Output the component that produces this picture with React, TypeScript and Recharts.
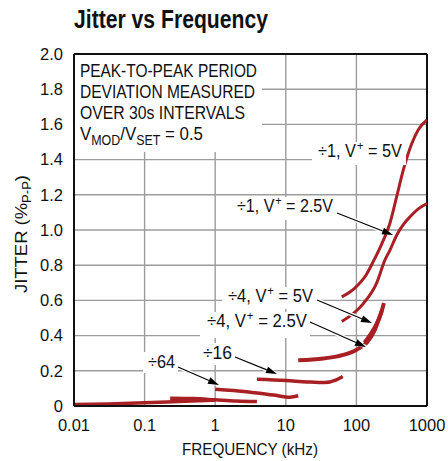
import React from "react";
import {
  LineChart,
  Line,
  XAxis,
  YAxis,
  CartesianGrid,
  ReferenceLine,
} from "recharts";

// axis ticks
const X_TICKS = [0.01, 0.1, 1, 10, 100, 1000];
const Y_TICKS = [0, 0.2, 0.4, 0.6, 0.8, 1.0, 1.2, 1.4, 1.6, 1.8, 2.0];

// frequency (kHz) / jitter (%P-P)
const F_DIV1_5V = [62, 95, 140, 173, 228, 299, 372, 461, 607, 753, 1000];
const J_DIV1_5V = [0.62, 0.67, 0.75, 0.82, 0.92, 1.04, 1.19, 1.34, 1.49, 1.57, 1.625];

const F_DIV1_25V = [62, 126, 194, 254, 299, 372, 461, 575, 753, 1000];
const J_DIV1_25V = [0.48, 0.583, 0.7, 0.83, 0.886, 0.97, 1.03, 1.075, 1.12, 1.15];

const F_DIV4_5V = [130, 160, 195, 225, 245];
const J_DIV4_5V = [0.36, 0.41, 0.47, 0.53, 0.585];

const F_DIV4_25V = [15, 34, 65, 101, 140, 181, 228];
const J_DIV4_25V = [0.26, 0.27, 0.29, 0.32, 0.36, 0.43, 0.54];

const F_DIV16 = [3.9, 10, 20, 35, 52, 64];
const J_DIV16 = [0.152, 0.145, 0.137, 0.133, 0.148, 0.167];

const F_DIV64 = [1, 2.8, 6.7, 11.5, 15];
const J_DIV64 = [0.095, 0.081, 0.062, 0.05, 0.058];

const F_DIV256 = [0.23, 0.5, 1, 2, 3.9];
const J_DIV256 = [0.044, 0.042, 0.035, 0.028, 0.025];

const F_DIV1024 = [0.01, 0.03, 0.1, 0.3, 1];
const J_DIV1024 = [0.008, 0.012, 0.018, 0.025, 0.033];

const zip = (f: number[], j: number[]) => f.map((x, i) => ({ f: x, j: j[i] }));

const SERIES = [
  { key: "div1_5v", data: zip(F_DIV1_5V, J_DIV1_5V), w: 3 },
  { key: "div1_25v", data: zip(F_DIV1_25V, J_DIV1_25V), w: 3 },
  { key: "div4_5v", data: zip(F_DIV4_5V, J_DIV4_5V), w: 4 },
  { key: "div4_25v", data: zip(F_DIV4_25V, J_DIV4_25V), w: 4 },
  { key: "div16", data: zip(F_DIV16, J_DIV16), w: 3.5 },
  { key: "div64", data: zip(F_DIV64, J_DIV64), w: 3.5 },
  { key: "div256", data: zip(F_DIV256, J_DIV256), w: 3.5 },
  { key: "div1024", data: zip(F_DIV1024, J_DIV1024), w: 3.5 },
];

const RED = "#a81f24";
const GRID = "#9c9c9c";
const INK = "#111";
const FONT = "'Liberation Sans', Arial, sans-serif";

function Arrow({ x1, y1, x2, y2 }: { x1: number; y1: number; x2: number; y2: number }) {
  const a = Math.atan2(y2 - y1, x2 - x1);
  const len = 11;
  const hw = 3.5;
  const bx = x2 - len * Math.cos(a);
  const by = y2 - len * Math.sin(a);
  const px = -Math.sin(a) * hw;
  const py = Math.cos(a) * hw;
  return (
    <g>
      <line x1={x1} y1={y1} x2={x2} y2={y2} stroke="#fff" strokeWidth={4} />
      <line x1={x1} y1={y1} x2={bx} y2={by} stroke="#000" strokeWidth={1.1} />
      <polygon points={`${x2},${y2} ${bx + px},${by + py} ${bx - px},${by - py}`} fill="#000" />
    </g>
  );
}

function VLabel({ x, y, w, div, volt }: { x: number; y: number; w: number; div: string; volt: string }) {
  return (
    <text x={x} y={y} fontSize={19} fontFamily={FONT} fill={INK} textLength={w} lengthAdjust="spacingAndGlyphs">
      {`÷${div}, V`}
      <tspan dx={1} dy={-7} fontSize={13}>+</tspan>
      <tspan dy={7}>{` = ${volt}`}</tspan>
    </text>
  );
}

function Txt({ x, y, w, s = 19, children }: { x: number; y: number; w: number; s?: number; children: React.ReactNode }) {
  return (
    <text x={x} y={y} fontSize={s} fontFamily={FONT} fill={INK} textLength={w} lengthAdjust="spacingAndGlyphs">
      {children}
    </text>
  );
}

function Overlay() {
  return (
    <svg
      width={448}
      height={461}
      style={{ position: "absolute", left: 0, top: 0, pointerEvents: "none" }}
    >
      <text
        x={74}
        y={28}
        fontSize={25}
        fontWeight="bold"
        fontFamily={FONT}
        fill={INK}
        textLength={194}
        lengthAdjust="spacingAndGlyphs"
      >
        Jitter vs Frequency
      </text>

      {/* axis titles */}
      <Txt x={182} y={455} w={136} s={17}>FREQUENCY (kHz)</Txt>
      <text
        transform="translate(27,293) rotate(-90)"
        fontSize={17}
        fontFamily={FONT}
        fill={INK}
        textLength={118}
        lengthAdjust="spacingAndGlyphs"
      >
        JITTER (%
        <tspan dy={4} fontSize={12}>P-P</tspan>
        <tspan dy={-4}>)</tspan>
      </text>

      {/* note box */}
      <rect x={75} y={55} width={187} height={97} fill="#fff" />
      <Txt x={80} y={77} w={177}>PEAK-TO-PEAK PERIOD</Txt>
      <Txt x={80} y={98} w={175}>DEVIATION MEASURED</Txt>
      <Txt x={80} y={119} w={165}>OVER 30s INTERVALS</Txt>
      <Txt x={80} y={140} w={123}>
        V<tspan dy={5} fontSize={14}>MOD</tspan>
        <tspan dy={-5}>/V</tspan>
        <tspan dy={5} fontSize={14}>SET</tspan>
        <tspan dy={-5}> = 0.5</tspan>
      </Txt>

      {/* curve labels */}
      <rect x={312} y={142} width={94} height={23} fill="#fff" />
      <VLabel x={318} y={157} w={84} div="1" volt="5V" />

      <rect x={232} y={197} width={106} height={23} fill="#fff" />
      <VLabel x={237} y={212} w={96} div="1" volt="2.5V" />
      <Arrow x1={337} y1={213} x2={393} y2={235} />

      <rect x={222} y={287} width={95} height={22} fill="#fff" />
      <VLabel x={228} y={302} w={85} div="4" volt="5V" />
      <Arrow x1={317} y1={300} x2={372} y2={323} />

      <rect x={200} y={312} width={110} height={26} fill="#fff" />
      <VLabel x={207} y={327} w={100} div="4" volt="2.5V" />
      <Arrow x1={310} y1={322} x2={366} y2={347} />

      <rect x={198} y={343} width={38} height={22} fill="#fff" />
      <Txt x={203} y={359} w={29}>÷16</Txt>
      <Arrow x1={235} y1={357} x2={277} y2={374} />

      <rect x={143} y={352} width={35} height={21} fill="#fff" />
      <Txt x={148} y={368} w={27}>÷64</Txt>
      <Arrow x1={178} y1={367} x2={219} y2={385} />
    </svg>
  );
}

export default function App() {
  return (
    <div style={{ position: "absolute", left: 0, top: 0, width: 448, height: 461, background: "#fff" }}>
      <LineChart width={448} height={461} margin={{ top: 54, right: 21, bottom: 0, left: 0 }}>
        <CartesianGrid stroke={GRID} strokeWidth={1.4} />
        <XAxis
          dataKey="f"
          type="number"
          scale="log"
          domain={[0.01, 1000]}
          ticks={X_TICKS}
          allowDataOverflow
          height={55}
          tickLine={false}
          tickSize={0}
          tickMargin={13}
          axisLine={{ stroke: INK, strokeWidth: 2 }}
          tick={{ fill: INK, fontSize: 16.5, fontFamily: FONT }}
        />
        <YAxis
          type="number"
          domain={[0, 2]}
          ticks={Y_TICKS}
          width={74}
          tickLine={false}
          tickSize={0}
          tickMargin={11}
          axisLine={{ stroke: INK, strokeWidth: 2 }}
          tickFormatter={(v: number) => (v === 0 ? "0" : v.toFixed(1))}
          tick={{ fill: INK, fontSize: 16.5, fontFamily: FONT }}
        />
        <ReferenceLine y={2} stroke={INK} strokeWidth={2} />
        <ReferenceLine x={1000} stroke={INK} strokeWidth={2} />
        {SERIES.map((s) => (
          <Line
            key={s.key}
            data={s.data}
            dataKey="j"
            type="monotone"
            stroke={RED}
            strokeWidth={s.w}
            dot={false}
            isAnimationActive={false}
          />
        ))}
      </LineChart>
      <Overlay />
    </div>
  );
}
